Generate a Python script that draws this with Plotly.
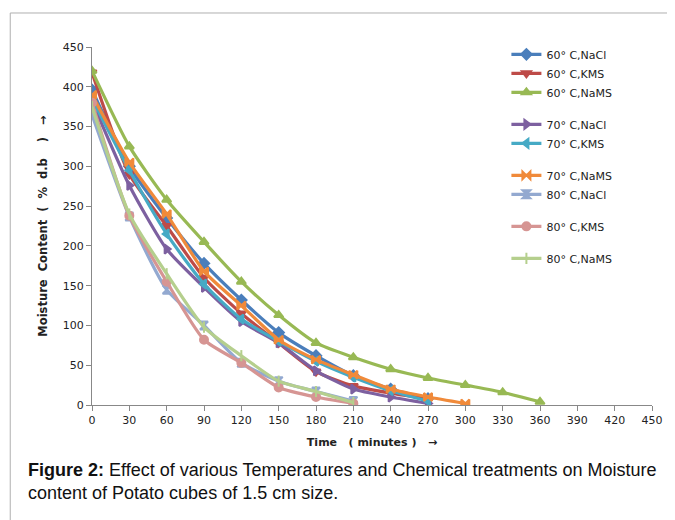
import plotly.graph_objects as go

time_a = [0, 30, 60, 90, 120, 150, 180, 210, 240, 270]
time_b = [0, 30, 60, 90, 120, 150, 180, 210, 240, 270, 300, 330, 360]
time_c = [0, 30, 60, 90, 120, 150, 180, 210, 240, 270, 300]
time_d = [0, 30, 60, 90, 120, 150, 180, 210]

c60_nacl = [396, 300, 235, 178, 132, 91, 62, 37, 20, 8]
c60_kms = [418, 290, 225, 160, 115, 78, 42, 24, 15, 8]
c60_nams = [420, 325, 258, 205, 155, 113, 78, 60, 45, 34, 25, 16, 4]
c70_nacl = [382, 276, 196, 148, 105, 78, 43, 20, 10, 2]
c70_kms = [385, 295, 215, 152, 108, 80, 55, 35, 18, 5]
c70_nams = [390, 305, 240, 168, 125, 82, 57, 38, 20, 10, 2]
c80_nacl = [365, 237, 145, 100, 53, 30, 17, 5]
c80_kms = [380, 238, 155, 82, 53, 22, 10, 2]
c80_nams = [375, 240, 165, 98, 62, 30, 17, 3]

series = [
    ("60° C,NaCl", time_a, c60_nacl, "#4A7EBB", "diamond", "g1"),
    ("60° C,KMS", time_a, c60_kms, "#BE4B48", "triangle-down", "g1"),
    ("60° C,NaMS", time_b, c60_nams, "#98B954", "triangle-up", "g1"),
    ("70° C,NaCl", time_a, c70_nacl, "#7D60A0", "triangle-right", "g2"),
    ("70° C,KMS", time_a, c70_kms, "#46AAC5", "triangle-left", "g2"),
    ("70° C,NaMS", time_c, c70_nams, "#F08A3A", "bowtie", "g3"),
    ("80° C,NaCl", time_d, c80_nacl, "#93A9D0", "hourglass", "g3"),
    ("80° C,KMS", time_d, c80_kms, "#D69593", "circle", "g4"),
    ("80° C,NaMS", time_d, c80_nams, "#B5CF8D", "line-ns", "g5"),
]

fig = go.Figure()
for name, t, v, col, sym, grp in series:
    fig.add_trace(go.Scatter(
        x=t, y=v, name=name, mode="lines+markers",
        line=dict(color=col, width=3.2, shape="spline", smoothing=0.6),
        marker=dict(symbol=sym, size=8, color=col, line=dict(color=col, width=2)),
        legendgroup=grp,
    ))

fig.update_layout(
    width=667, height=512,
    margin=dict(l=84, r=23, t=39, b=115),
    paper_bgcolor="white", plot_bgcolor="white",
    font=dict(family="DejaVu Sans", size=11, color="#222"),
    showlegend=True,
    legend=dict(x=0.74, y=1.02, xanchor="left", yanchor="top",
                font=dict(family="DejaVu Sans", size=11, color="#222"),
                tracegroupgap=13, itemwidth=30, bgcolor="rgba(0,0,0,0)"),
    xaxis=dict(range=[0, 450], tickmode="linear", tick0=0, dtick=30,
               showgrid=False, zeroline=False, showline=True, linecolor="#888",
               ticks="outside", ticklen=5, tickcolor="#888",
               tickfont=dict(size=11),
               title=dict(text="<b>Time   ( minutes )   →</b>", font=dict(size=11), standoff=12)),
    yaxis=dict(range=[0, 450], tickmode="linear", tick0=0, dtick=50,
               showgrid=False, zeroline=False, showline=True, linecolor="#888",
               ticks="outside", ticklen=5, tickcolor="#888",
               tickfont=dict(size=11),
               title=dict(text="<b>Moisture  Content  (  %  d.b    )   →</b>", font=dict(size=11.5), standoff=12)),
)

fig.add_shape(type="rect", xref="paper", yref="paper",
              x0=-0.146, x1=1.08, y0=-0.36, y1=1.095,
              line=dict(color="#B0B0B0", width=1), fillcolor="rgba(0,0,0,0)", layer="below")

fig.add_annotation(
    xref="paper", yref="paper", x=-0.118, y=-0.147, xanchor="left", yanchor="top",
    align="left", showarrow=False,
    text="<b>Figure 2:</b> Effect of various Temperatures and Chemical treatments on Moisture<br>content of Potato cubes of 1.5 cm size.",
    font=dict(family="Liberation Sans, Arial", size=18, color="#111"),
)

fig.write_html("out.html")
